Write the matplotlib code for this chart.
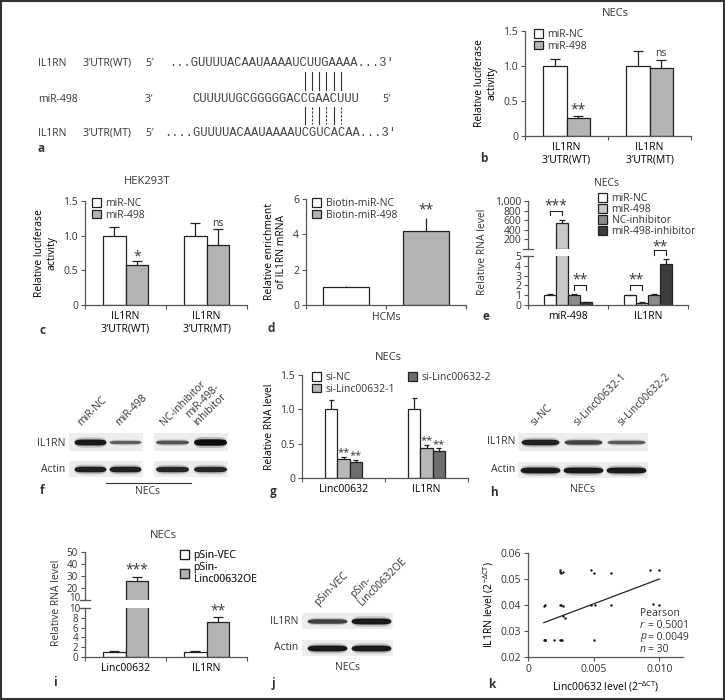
import matplotlib.pyplot as plt
import numpy as np
from matplotlib.patches import Rectangle, Patch

plt.rcParams['font.family'] = ['Open Sans', 'DejaVu Sans']
plt.rcParams['font.size'] = 7.5
plt.rcParams['text.color'] = '#333333'
plt.rcParams['axes.edgecolor'] = '#555555'
plt.rcParams['axes.linewidth'] = 0.9
plt.rcParams['mathtext.fontset'] = 'custom'
plt.rcParams['mathtext.rm'] = 'Open Sans'
plt.rcParams['mathtext.it'] = 'Open Sans:italic'

# ---- data ----
# a: sequences
seq_wt = '...GUUUUACAAUAAAAUCUUGAAAA...3\u2032'
seq_mir = 'CUUUUUGCGGGGGACCGAACUUU'
seq_mt = '....GUUUUACAAUAAAAUCGUCACAA...3\u2032'
pair_idx = [15, 16, 17, 18, 19, 20]
pair_mt_style = ['-', '--', '-', '--', '-', '--']

# b: NECs luciferase
luc_groups = ['IL1RN\n3\u2032UTR(WT)', 'IL1RN\n3\u2032UTR(MT)']
b_nc = [1.0, 1.0]
b_nc_err = [0.10, 0.22]
b_498 = [0.26, 0.97]
b_498_err = [0.03, 0.12]

# c: HEK293T luciferase
c_nc = [1.0, 1.0]
c_nc_err = [0.13, 0.18]
c_498 = [0.58, 0.87]
c_498_err = [0.05, 0.22]

# d: biotin pull-down
d_vals = [1.0, 4.2]
d_err = [0.08, 0.75]
d_labels = ['Biotin-miR-NC', 'Biotin-miR-498']

# e: RNA levels
e_groups = ['miR-498', 'IL1RN']
e_labels = ['miR-NC', 'miR-498', 'NC-inhibitor', 'miR-498-inhibitor']
e_vals = [[1.0, 1.0], [550, 0.25], [1.0, 1.0], [0.3, 4.2]]
e_err = [[0.15, 0.05], [50, 0.05], [0.12, 0.15], [0.05, 0.5]]

# f, h, j: western blot band intensities
f_lanes = ['miR-NC', 'miR-498', 'NC-inhibitor', 'miR-498-\ninhibitor']
f_il1rn = [1.0, 0.45, 0.55, 1.1]
f_actin = [0.95, 0.95, 0.9, 0.9]
h_lanes = ['si-NC', 'si-Linc00632-1', 'si-Linc00632-2']
h_il1rn = [0.95, 0.7, 0.5]
h_actin = [1.0, 1.0, 1.0]
j_lanes = ['pSin-VEC', 'pSin-\nLinc00632OE']
j_il1rn = [0.7, 1.0]
j_actin = [1.0, 1.0]

# g: knockdown
g_groups = ['Linc00632', 'IL1RN']
g_labels = ['si-NC', 'si-Linc00632-1', 'si-Linc00632-2']
g_vals = [[1.0, 1.0], [0.28, 0.43], [0.23, 0.39]]
g_err = [[0.13, 0.17], [0.03, 0.05], [0.03, 0.04]]

# i: overexpression
i_groups = ['Linc00632', 'IL1RN']
i_labels = ['pSin-VEC', 'pSin-\nLinc00632OE']
i_vals = [[1.0, 1.0], [26.0, 7.2]]
i_err = [[0.2, 0.2], [3.0, 0.9]]

# k: correlation
k_x = [0.0012, 0.0013, 0.0013, 0.0012, 0.0013, 0.0020, 0.0024, 0.0025, 0.0026,
       0.0024, 0.0024, 0.0025, 0.0027, 0.0024, 0.0027, 0.0027, 0.0028, 0.0048,
       0.0050, 0.0048, 0.0051, 0.0050, 0.0063, 0.0063, 0.0093, 0.0100, 0.0095,
       0.0100, 0.0013, 0.0025]
k_y = [0.0267, 0.0265, 0.0400, 0.0398, 0.0267, 0.0267, 0.0265, 0.0267, 0.0265,
       0.0527, 0.0533, 0.0522, 0.0527, 0.0400, 0.0395, 0.0358, 0.0350, 0.0533,
       0.0522, 0.0400, 0.0400, 0.0264, 0.0524, 0.0400, 0.0533, 0.0533, 0.0405,
       0.0400, 0.0267, 0.0400]
k_slope = 1.91
k_intercept = 0.0309

WHITE = 'white'
GRAY = '#b3b3b3'
EDGE = '#222222'

W, H = 725, 700
fig = plt.figure(figsize=(7.25, 7.0), dpi=100)
canvas = fig.add_axes([0, 0, 1, 1], zorder=0)
canvas.set_xlim(0, W)
canvas.set_ylim(H, 0)
canvas.axis('off')


def box(x0, y0, x1, y1):
    ax = fig.add_axes([x0 / W, 1 - y1 / H, (x1 - x0) / W, (y1 - y0) / H], zorder=1)
    ax.set_facecolor('none')
    for s in ['top', 'right']:
        ax.spines[s].set_visible(False)
    ax.tick_params(direction='out', length=3, width=0.8, colors='#555555',
                   labelcolor='#333333', pad=2, labelsize=7.5)
    return ax


def bars(ax, series, errs, colors, width, ngroups, floor=None):
    n = len(series)
    cap = width * 0.22
    for j, (vals, err, col) in enumerate(zip(series, errs, colors)):
        xs = np.arange(ngroups) + 0.5 + (j - (n - 1) / 2) * width
        vals = np.asarray(vals, float)
        err = np.asarray(err, float)
        keep = np.ones(len(vals), bool) if floor is None else vals > floor
        if not keep.any():
            continue
        xs, vals, err = xs[keep], vals[keep], err[keep]
        ax.bar(xs, vals, width, color=col, edgecolor=EDGE, linewidth=0.9)
        ax.vlines(xs, vals, vals + err, color=EDGE, lw=0.9)
        ax.hlines(vals + err, xs - cap, xs + cap, color=EDGE, lw=0.9)
    ax.set_xlim(0, ngroups)


def xgroups(ax, groups):
    n = len(groups)
    ax.set_xticks(np.arange(n + 1))
    ax.set_xticklabels([])
    ax.set_xticks(np.arange(n) + 0.5, minor=True)
    ax.set_xticklabels(groups, minor=True)
    ax.tick_params(axis='x', which='minor', length=0, pad=4)


def legend(labels, colors, x, y, ncol=1, colsp=1.0, spacing=0.05):
    hs = [Patch(facecolor=c, edgecolor=EDGE, linewidth=0.9) for c in colors]
    leg = canvas.legend(hs, labels, loc='upper left', bbox_to_anchor=(x, y),
                        bbox_transform=canvas.transData, frameon=False, ncol=ncol,
                        handlelength=0.9, handleheight=0.9, handletextpad=0.4,
                        labelspacing=spacing, borderpad=0, borderaxespad=0,
                        columnspacing=colsp, fontsize=7.5)
    canvas.add_artist(leg)


def stars(ax, x, y, s, size=10):
    ax.text(x, y, s, ha='center', va='bottom', fontsize=size, clip_on=False)


def bracket(ax, x0, x1, y, leg, s, dy):
    ax.plot([x0, x0, x1, x1], [y - leg, y, y, y - leg], color=EDGE, lw=0.8,
            clip_on=False)
    ax.text((x0 + x1) / 2, y + dy, s, ha='center', va='bottom', fontsize=10)


def blot(x0, x1, y0, y1, centers, intens, lane_w):
    canvas.add_patch(Rectangle((x0, y0), x1 - x0, y1 - y0, color='#ededed', lw=0))
    cy = (y0 + y1) / 2
    xs = np.linspace(-lane_w / 2, lane_w / 2, 80)
    prof = np.sqrt(np.clip(1 - (2 * xs / lane_w) ** 6, 0, 1))
    for cx, v in zip(centers, intens):
        g = float(np.clip(0.6 - 0.5 * v, 0.05, 0.8))
        for k, a in [(1.7, 0.22), (1.0, 1.0)]:
            h = (0.6 + 2.4 * v) * k * prof
            canvas.fill_between(cx + xs, cy - h, cy + h, color=str(g), alpha=a, lw=0)


def break_mark(x, y):
    canvas.plot([x - 5, x + 5], [y, y], color='#555555', lw=0.9)


def stat_line(x, y, letter, rest):
    canvas.text(x, y, letter, va='center', style='italic')
    canvas.text(x + 8, y, rest, va='center')


# ---- panel a ----
cw = 7.26
for txt, y in [('IL1RN', 63), ('miR-498', 99), ('IL1RN', 133)]:
    canvas.text(38, y, txt, va='center', fontsize=7.5)
canvas.text(83, 63, '3\u2032UTR(WT)', va='center')
canvas.text(83, 133, '3\u2032UTR(MT)', va='center')
canvas.text(145, 63, '5\u2032', va='center')
canvas.text(145, 99, '3\u2032', va='center')
canvas.text(145, 133, '5\u2032', va='center')
canvas.text(382, 99, '5\u2032', va='center')
mono = ['Liberation Mono', 'DejaVu Sans Mono']
canvas.text(191 - 3 * cw, 63, seq_wt, va='center', family=mono, fontsize=8.7, color='#444444')
canvas.text(192, 99, seq_mir, va='center', family=mono, fontsize=8.7, color='#444444')
canvas.text(193 - 4 * cw, 133, seq_mt, va='center', family=mono, fontsize=8.7, color='#444444')
for i, ls in zip(pair_idx, pair_mt_style):
    xp = 192 + (i + 0.5) * cw
    canvas.plot([xp, xp], [72, 90], color='#333333', lw=0.8)
    if ls == '--':
        canvas.plot([xp, xp], [107, 124], color='#333333', lw=0.8, dashes=(2, 1.5))
    else:
        canvas.plot([xp, xp], [107, 124], color='#333333', lw=0.8)
canvas.text(38, 148, 'a', fontweight='bold', va='center', fontsize=8.5)

# ---- panel b ----
ax = box(525, 31, 691, 136)
bars(ax, [b_nc, b_498], [b_nc_err, b_498_err], [WHITE, GRAY], 0.28, 2)
xgroups(ax, luc_groups)
ax.set_ylim(0, 1.5)
ax.set_yticks([0, 0.5, 1.0, 1.5])
ax.set_yticklabels(['0', '0.5', '1.0', '1.5'])
ax.set_ylabel('Relative luciferase\nactivity', labelpad=4)
stars(ax, 0.64, 0.26, '**')
stars(ax, 1.64, 1.10, 'ns', 7.5)
canvas.text(615, 13, 'NECs', ha='center', va='center', fontsize=8)
legend(['miR-NC', 'miR-498'], [WHITE, GRAY], 534, 29)
canvas.text(480, 158, 'b', fontweight='bold', va='center', fontsize=8.5)

# ---- panel c ----
ax = box(85, 201, 247, 305)
bars(ax, [c_nc, c_498], [c_nc_err, c_498_err], [WHITE, GRAY], 0.28, 2)
xgroups(ax, luc_groups)
ax.set_ylim(0, 1.5)
ax.set_yticks([0, 0.5, 1.0, 1.5])
ax.set_yticklabels(['0', '0.5', '1.0', '1.5'])
ax.set_ylabel('Relative luciferase\nactivity', labelpad=4)
stars(ax, 0.64, 0.58, '*')
stars(ax, 1.64, 1.10, 'ns', 7.5)
canvas.text(147, 182, 'HEK293T', ha='center', va='center', fontsize=8)
legend(['miR-NC', 'miR-498'], [WHITE, GRAY], 92, 198)
canvas.text(40, 330, 'c', fontweight='bold', va='center', fontsize=8.5)

# ---- panel d ----
ax = box(306, 199, 466, 305)
bars(ax, [[d_vals[0], np.nan], [np.nan, d_vals[1]]],
     [[d_err[0], 0], [0, d_err[1]]], [WHITE, GRAY], 0.0, 2)
for p in ax.patches:
    p.set_width(0.575)
    p.set_x(p.get_x() - 0.2875)
ax.set_xlim(0, 2)
ax.set_xticks([0, 1, 2])
ax.set_xticklabels(['', 'HCMs', ''])
ax.set_ylim(0, 6)
ax.set_yticks([0, 2, 4, 6])
ax.set_ylabel('Relative enrichment\nof IL1RN mRNA', labelpad=4)
stars(ax, 1.5, 4.95, '**')
legend(d_labels, [WHITE, GRAY], 312, 198)
canvas.text(268, 328, 'd', fontweight='bold', va='center', fontsize=8.5)

# ---- panel e ----
e_colors = ['white', '#c8c8c8', '#8c8c8c', '#3c3c3c']
ax_lo = box(528, 256, 688, 305)
ax_hi = box(528, 201, 688, 248.5)
bars(ax_lo, e_vals, e_err, e_colors, 0.15, 2)
bars(ax_hi, e_vals, e_err, e_colors, 0.15, 2, floor=5)
ax_lo.set_ylim(0, 5)
ax_lo.set_yticks([0, 1, 2, 3, 4, 5])
xgroups(ax_lo, e_groups)
ax_hi.set_ylim(10, 1000)
ax_hi.set_yticks([200, 400, 600, 800, 1000])
ax_hi.set_yticklabels(['200', '400', '600', '800', '1,000'])
ax_hi.spines['bottom'].set_visible(False)
ax_hi.set_xticks([])
break_mark(528, 248.5)
break_mark(528, 256)
canvas.text(483, 252, 'Relative RNA level', rotation=90, ha='center', va='center')
bracket(ax_hi, 0.275, 0.425, 790, 90, '***', -50)
bracket(ax_lo, 0.575, 0.725, 2.0, 0.5, '**', -0.25)
bracket(ax_lo, 1.275, 1.425, 2.0, 0.5, '**', -0.25)
bracket(ax_lo, 1.575, 1.725, 5.6, 0.5, '**', -0.4)
canvas.text(607, 184, 'NECs', ha='center', va='center', fontsize=7.5)
legend(e_labels, e_colors, 598, 193, spacing=0.0)
canvas.text(483, 316, 'e', fontweight='bold', va='center', fontsize=8.5)

# ---- panel f ----
blot(69, 143, 433, 451, [90, 125], f_il1rn[:2], 32)
blot(154, 228, 433, 451, [172, 210], f_il1rn[2:], 33)
blot(69, 143, 461, 477, [90, 125], f_actin[:2], 32)
blot(154, 228, 461, 477, [172, 210], f_actin[2:], 33)
canvas.text(65, 443, 'IL1RN', ha='right', va='center')
canvas.text(65, 469, 'Actin', ha='right', va='center')
for lx, lab in zip([83, 121, 166, 199], f_lanes):
    canvas.text(lx, 428, lab, rotation=45, rotation_mode='anchor', ha='left',
                va='bottom', fontsize=7.5, linespacing=1.0)
canvas.plot([106, 191], [483, 483], color='#333333', lw=0.8)
canvas.text(148, 491, 'NECs', ha='center', va='center')
canvas.text(40, 490, 'f', fontweight='bold', va='center', fontsize=8.5)

# ---- panel g ----
g_colors = ['white', '#b8b8b8', '#6e6e6e']
ax = box(302, 375, 468, 478)
bars(ax, g_vals, g_err, g_colors, 0.145, 2)
xgroups(ax, g_groups)
ax.set_ylim(0, 1.5)
ax.set_yticks([0, 0.5, 1.0, 1.5])
ax.set_yticklabels(['0', '0.5', '1.0', '1.5'])
ax.set_ylabel('Relative RNA level', labelpad=4)
for j in (1, 2):
    for gi in range(2):
        xb = gi + 0.5 + (j - 1) * 0.145
        stars(ax, xb, g_vals[j][gi] + g_err[j][gi] - 0.02, '**', 8)
canvas.text(388, 357, 'NECs', ha='center', va='center', fontsize=8)
legend(g_labels, g_colors, 312, 372, ncol=2, colsp=1.2)
canvas.text(270, 492, 'g', fontweight='bold', va='center', fontsize=8.5)

# ---- panel h ----
blot(518, 648, 433, 451, [540, 583, 626], h_il1rn, 38)
blot(518, 648, 462, 478, [540, 583, 626], h_actin, 40)
canvas.text(515, 442, 'IL1RN', ha='right', va='center')
canvas.text(515, 469, 'Actin', ha='right', va='center')
for lx, lab in zip([537, 580, 624], h_lanes):
    canvas.text(lx, 428, lab, rotation=45, rotation_mode='anchor', ha='left',
                va='bottom', fontsize=7.5)
canvas.text(583, 490, 'NECs', ha='center', va='center')
canvas.text(490, 492, 'h', fontweight='bold', va='center', fontsize=8.5)

# ---- panel i ----
i_colors = [WHITE, GRAY]
ax_lo = box(85, 608, 247, 657)
ax_hi = box(85, 552, 247, 600)
bars(ax_lo, i_vals, i_err, i_colors, 0.28, 2)
bars(ax_hi, i_vals, i_err, i_colors, 0.28, 2, floor=10)
ax_lo.set_ylim(0, 10)
ax_lo.set_yticks([0, 2, 4, 6, 8, 10])
ax_lo.set_yticklabels(['0', '2', '4', '6', '8', ''])
xgroups(ax_lo, i_groups)
ax_hi.set_ylim(10, 50)
ax_hi.set_yticks([10, 20, 30, 40, 50])
ax_hi.set_yticklabels(['', '20', '30', '40', '50'])
ax_hi.spines['bottom'].set_visible(False)
ax_hi.set_xticks([])
for a_ in (ax_lo, ax_hi):
    a_.tick_params(axis='y', labelsize=7)
# the two "10" labels at the break sit very close; nudge them apart a little
canvas.text(80, 598.8, '10', ha='right', va='center', fontsize=7)
canvas.text(80, 609.0, '10', ha='right', va='center', fontsize=7)
break_mark(85, 600)
break_mark(85, 608)
canvas.text(57, 603, 'Relative RNA level', rotation=90, ha='center', va='center')
stars(ax_hi, 0.64, 28.5, '***')
stars(ax_lo, 1.64, 7.8, '**')
canvas.text(163, 535, 'NECs', ha='center', va='center', fontsize=8)
legend(i_labels, i_colors, 180, 550)
canvas.text(53, 683, 'i', fontweight='bold', va='center', fontsize=8.5)

# ---- panel j ----
blot(302, 393, 613, 629, [327, 371], j_il1rn, 40)
blot(302, 393, 640, 656, [327, 371], j_actin, 40)
canvas.text(298, 621, 'IL1RN', ha='right', va='center')
canvas.text(298, 648, 'Actin', ha='right', va='center')
for lx, lab in zip([320, 364], j_lanes):
    canvas.text(lx, 608, lab, rotation=45, rotation_mode='anchor', ha='left',
                va='bottom', fontsize=7.5, linespacing=1.0)
canvas.text(348, 668, 'NECs', ha='center', va='center')
canvas.text(272, 683, 'j', fontweight='bold', va='center', fontsize=8.5)

# ---- panel k ----
ax = box(528, 553, 683, 657)
ax.scatter(k_x, k_y, s=3, color='#111111', linewidths=0)
fx = np.array([min(k_x), max(k_x)])
ax.plot(fx, k_slope * fx + k_intercept, color='#222222', lw=0.9)
ax.set_xlim(0, 0.0118)
ax.set_ylim(0.02, 0.06)
ax.set_xticks([0, 0.005, 0.010])
ax.set_xticklabels(['0', '0.005', '0.010'])
ax.set_yticks([0.02, 0.03, 0.04, 0.05, 0.06])
ax.set_yticklabels(['0.02', '0.03', '0.04', '0.05', '0.06'])
ax.set_xlabel('Linc00632 level (2$^{\u2212\u0394\\mathrm{CT}}$)', labelpad=3)
ax.set_ylabel('IL1RN level (2$^{\u2212\u0394\\mathrm{CT}}$)', labelpad=3)
canvas.text(640, 613, 'Pearson', va='center')
stat_line(640, 625, 'r', '= 0.5001')
stat_line(640, 637, 'p', '= 0.0049')
stat_line(640, 649, 'n', '= 30')
canvas.text(488, 684, 'k', fontweight='bold', va='center', fontsize=8.5)

# frame
canvas.add_patch(Rectangle((1, 1), W - 2, H - 2, fill=False, ec='#333333', lw=1.5))

fig.savefig('out.png', dpi=100)
